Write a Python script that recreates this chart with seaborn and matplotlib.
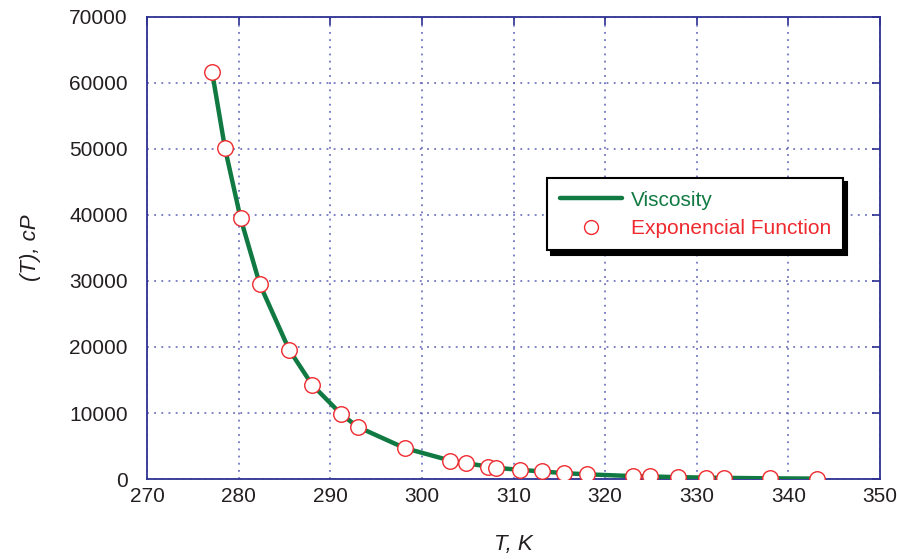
import matplotlib
matplotlib.use("Agg")
import matplotlib.pyplot as plt
import seaborn as sns
import pandas as pd
from matplotlib.lines import Line2D

# Temperature (K) and viscosity (cP)
temp_k = [277.1, 278.5, 280.2, 282.3, 285.5, 288.0, 291.2, 293.0, 298.1,
          303.1, 304.8, 307.2, 308.1, 310.7, 313.1, 315.5, 318.0,
          323.0, 324.9, 328.0, 331.0, 333.0, 338.0, 343.1]
viscosity = [61600, 50100, 39500, 29500, 19600, 14300, 9800, 7900, 4700,
             2800, 2400, 1900, 1700, 1400, 1150, 900, 720,
             450, 390, 290, 220, 180, 110, 70]

x_ticks = [270, 280, 290, 300, 310, 320, 330, 340, 350]
y_ticks = [0, 10000, 20000, 30000, 40000, 50000, 60000, 70000]

df = pd.DataFrame({"T": temp_k, "mu": viscosity})

sns.set_style("white")
plt.rcParams['font.family'] = ['Liberation Sans', 'DejaVu Sans']

navy = "#2E3192"
green = "#117A43"
red = "#EE2A2F"
txt = "#231F20"

fig = plt.figure(figsize=(8.97, 5.59), dpi=100)
ax = fig.add_axes([0.164, 0.143, 0.817, 0.827])

sns.lineplot(data=df, x="T", y="mu", ax=ax, color=green, linewidth=3.2, zorder=3)
sns.scatterplot(data=df, x="T", y="mu", ax=ax, s=125, facecolor="white",
                edgecolor=red, linewidth=1.0, zorder=4)

ax.set_xlim(270, 350)
ax.set_ylim(0, 70000)
ax.set_xticks(x_ticks)
ax.set_yticks(y_ticks)
ax.set_xticklabels([str(t) for t in x_ticks], fontsize=15, color=txt)
ax.set_yticklabels([str(t) for t in y_ticks], fontsize=15, color=txt)

ax.grid(True, color="#5A5FB5", linestyle=(0, (1.2, 3.5)), linewidth=1.1)
ax.tick_params(direction="in", length=6, width=1.2, color=navy,
               top=True, right=True)
ax.tick_params(axis="x", pad=6)
ax.tick_params(axis="y", pad=14)
for sp in ax.spines.values():
    sp.set_color(navy)
    sp.set_linewidth(1.3)

ax.set_xlabel("T, K", fontsize=16, style="italic", labelpad=20, color=txt)
ax.set_ylabel("(T), cP", fontsize=16, style="italic", labelpad=20, color=txt)

handles = [
    Line2D([0], [0], color=green, linewidth=3.2),
    Line2D([0], [0], marker="o", linestyle="none", markersize=10,
           markerfacecolor="white", markeredgecolor=red, markeredgewidth=1.0),
]
leg = ax.legend(handles, ["Viscosity", "Exponencial Function"],
                loc="upper left", bbox_to_anchor=(0.546, 0.651),
                fontsize=15, frameon=True, fancybox=False,
                shadow={"color": "black", "alpha": 1.0, "ox": 3, "oy": -3},
                handlelength=3.0, handletextpad=0.4, borderpad=0.6,
                labelspacing=0.45, borderaxespad=0)
leg.get_frame().set_edgecolor("black")
leg.get_frame().set_linewidth(1.5)
leg.get_frame().set_alpha(1.0)
leg.get_texts()[0].set_color(green)
leg.get_texts()[1].set_color(red)

fig.savefig("out.png", dpi=100)
